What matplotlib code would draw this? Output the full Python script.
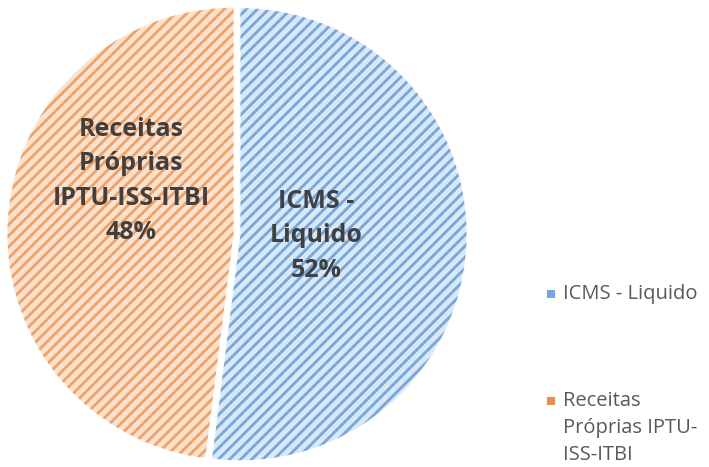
import matplotlib
matplotlib.use("Agg")
import matplotlib.pyplot as plt
from matplotlib.patches import Rectangle

labels = ["ICMS - Liquido", "Receitas Próprias IPTU-ISS-ITBI"]
values = [52, 48]
pie_labels = ["ICMS -\nLiquido\n52%", "Receitas\nPróprias\nIPTU-ISS-ITBI\n48%"]
legend_labels = ["ICMS - Liquido", "Receitas\nPróprias IPTU-\nISS-ITBI"]
fill_colors = ["#d9e7f6", "#fbe2d0"]
hatch_colors = ["#73a8dc", "#f3a163"]
legend_colors = ["#6fa8de", "#f08a45"]

plt.rcParams["hatch.linewidth"] = 2.0

W, H = 709, 467
fig = plt.figure(figsize=(W / 100, H / 100), dpi=100)
ax = fig.add_axes([0, 0, 1, 1])

wedges, _ = ax.pie(values, startangle=90, counterclock=False, center=(237, 233),
                   radius=226, explode=[3.5, 3.5], frame=True,
                   colors=fill_colors,
                   wedgeprops=dict(linewidth=0, hatch="///"))
for w, hc in zip(wedges, hatch_colors):
    w.set_edgecolor(hc)
ax.set_xlim(0, W)
ax.set_ylim(0, H)
ax.set_aspect("equal")
ax.axis("off")

label_pos = [(316, H - 236), (131, H - 181)]
for (x, y), t in zip(label_pos, pie_labels):
    ax.text(x, y, t, ha="center", va="center", fontsize=18, fontweight="bold",
            family="Open Sans", color="#404040", linespacing=1.5)

leg_y = [H - 294, H - 401]
for y, t, c in zip(leg_y, legend_labels, legend_colors):
    ax.add_patch(Rectangle((547, y - 4), 8, 8, facecolor=c, edgecolor="none"))
    ax.text(563, y + 10, t, ha="left", va="top", fontsize=14.5, family="Open Sans",
            color="#595959", linespacing=1.45)

fig.savefig("out.png", dpi=100)
